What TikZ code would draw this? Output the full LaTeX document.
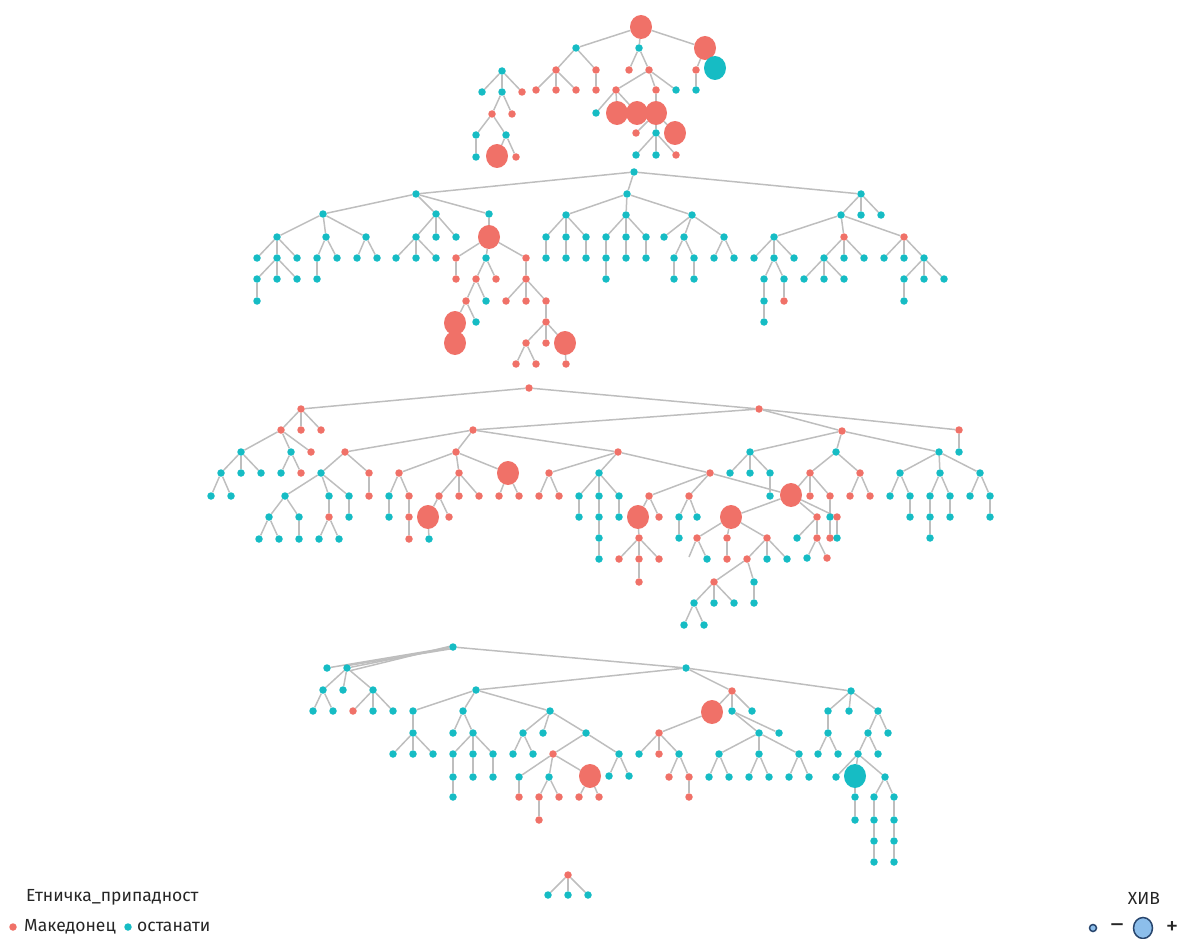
\documentclass[tikz,border=0pt]{standalone}
\usepackage{fontspec}
\setmainfont{Fira Sans}
\usetikzlibrary{shapes.geometric}
\definecolor{salmon}{RGB}{240,113,104}
\definecolor{tealc}{RGB}{22,188,196}
\definecolor{edgec}{RGB}{190,190,190}
\definecolor{hivfill}{RGB}{140,190,235}
\definecolor{hivline}{RGB}{40,70,110}
\pgfdeclarelayer{bg}
\pgfsetlayers{bg,main}
\tikzset{
  rd/.style={circle, fill=salmon, inner sep=0pt, minimum size=7.5pt},
  td/.style={circle, fill=tealc, inner sep=0pt, minimum size=7.5pt},
  bigr/.style={ellipse, fill=salmon, inner sep=0pt, minimum width=22pt, minimum height=24pt},
  bigt/.style={ellipse, fill=tealc, inner sep=0pt, minimum width=22pt, minimum height=24pt},
  edge/.style={draw=edgec, line width=1.5pt},
  legtext/.style={inner sep=0pt, font=\fontsize{17.5}{21}\selectfont, text=black!85},
  signtext/.style={inner sep=0pt, font=\fontsize{25}{27}\selectfont, text=black!85}
}
\newcommand\mkR[2]{\node[rd] (#1) at (#2) {};}
\newcommand\mkT[2]{\node[td] (#1) at (#2) {};}
\newcommand\mkBR[2]{\node[bigr] (#1) at (#2) {};}
\newcommand\mkBT[2]{\node[bigt] (#1) at (#2) {};}
\newcommand\mkE[2]{\foreach \kid in {#2}{\draw[edge] (#1) -- (\kid);}}
\begin{document}
\begin{tikzpicture}[x=1pt,y=-1pt]
\useasboundingbox (0,0) rectangle (1184,939);
% ---------------- Tree A
\mkBR{A0}{641,27}
\mkT{A1}{576,48} \mkT{A2}{639,48} \mkBR{A3}{705,48}
\mkR{A4}{556,70} \mkR{A5}{596,70}
\mkR{A6}{536,90} \mkR{A7}{556,90} \mkR{A8}{576,90}
\mkR{A9}{596,90}
\mkR{A10}{629,70} \mkR{A11}{649,70}
\mkR{A12}{616,90} \mkR{A13}{656,90} \mkT{A14}{676,90}
\mkT{A15}{596,113} \mkBR{A16}{617,113} \mkBR{A17}{637,113}
\mkBR{A18}{656,113}
\mkR{A19}{636,133} \mkT{A20}{656,133} \mkBR{A21}{675,133}
\mkT{A22}{636,155} \mkT{A23}{656,155} \mkR{A24}{676,155}
\mkR{A25}{696,70} \mkBT{A26}{715,68}
\mkT{A27}{696,90}
% ---------------- Tree B
\mkT{B0}{502,71}
\mkT{B1}{482,92} \mkT{B2}{502,92} \mkR{B3}{522,92}
\mkR{B4}{492,114} \mkR{B5}{512,114}
\mkT{B6}{476,135} \mkT{B7}{506,135}
\mkT{B8}{476,157}
\mkBR{B9}{497,156} \mkR{B10}{516,157}
% ---------------- Tree C
\mkT{C0}{634,172}
\mkT{C1}{416,194} \mkT{C2}{627,194} \mkT{C3}{861,194}
\mkT{C4}{323,214} \mkT{C5}{436,214} \mkT{C6}{489,214}
\mkT{C7}{277,237} \mkT{C8}{326,237} \mkT{C9}{366,237}
\mkT{C10}{257,258} \mkT{C11}{277,258} \mkT{C12}{297,258}
\mkT{C13}{257,279} \mkT{C14}{277,279} \mkT{C15}{297,279}
\mkT{C16}{257,301}
\mkT{C17}{317,258} \mkT{C18}{337,258}
\mkT{C19}{317,279}
\mkT{C20}{357,258} \mkT{C21}{377,258}
\mkT{C22}{416,237} \mkT{C23}{436,237} \mkT{C24}{456,237}
\mkT{C25}{396,258} \mkT{C26}{416,258} \mkT{C27}{436,258}
\mkBR{C28}{489,237}
\mkR{C29}{456,258} \mkT{C30}{486,258} \mkR{C31}{526,258}
\mkR{C32}{456,279}
\mkR{C33}{476,279} \mkR{C34}{496,279}
\mkR{C35}{466,301} \mkT{C36}{486,301}
\mkBR{C37}{455,323} \mkT{C38}{476,322}
\mkBR{C39}{455,343}
\mkR{C40}{526,279}
\mkR{C41}{506,301} \mkR{C42}{526,301} \mkR{C43}{546,301}
\mkR{C44}{546,322}
\mkR{C45}{526,343} \mkR{C46}{546,343} \mkBR{C47}{565,343}
\mkR{C48}{516,364} \mkR{C49}{536,364}
\mkR{C50}{566,364}
\mkT{C51}{566,215} \mkT{C52}{626,215} \mkT{C53}{692,215}
\mkT{C54}{546,237} \mkT{C55}{566,237} \mkT{C56}{586,237}
\mkT{C57}{546,258} \mkT{C58}{566,258} \mkT{C59}{586,258}
\mkT{C60}{606,237} \mkT{C61}{626,237} \mkT{C62}{646,237}
\mkT{C63}{606,258} \mkT{C64}{626,258} \mkT{C65}{646,258}
\mkT{C66}{606,279}
\mkT{C67}{664,237} \mkT{C68}{684,237} \mkT{C69}{724,237}
\mkT{C70}{674,258} \mkT{C71}{694,258}
\mkT{C72}{674,279} \mkT{C73}{694,279}
\mkT{C74}{714,258} \mkT{C75}{734,258}
\mkT{C76}{841,215} \mkT{C77}{861,215} \mkT{C78}{881,215}
\mkT{C79}{774,237} \mkR{C80}{844,237} \mkR{C81}{904,237}
\mkT{C82}{754,258} \mkT{C83}{774,258} \mkT{C84}{794,258}
\mkT{C85}{764,279} \mkT{C86}{784,279}
\mkT{C87}{764,301} \mkT{C88}{764,322}
\mkR{C89}{784,301}
\mkT{C90}{824,258} \mkT{C91}{844,258} \mkT{C92}{864,258}
\mkT{C93}{804,279} \mkT{C94}{824,279} \mkT{C95}{844,279}
\mkT{C96}{884,258} \mkT{C97}{904,258} \mkT{C98}{924,258}
\mkT{C99}{904,279} \mkT{C100}{924,279} \mkT{C101}{944,279}
\mkT{C102}{904,301}
% ---------------- Tree D
\mkR{D0}{529,388}
\mkR{D1}{301,409} \mkR{D2}{759,409}
\mkR{D3}{281,430} \mkR{D4}{301,430} \mkR{D5}{321,430}
\mkT{D6}{241,452} \mkT{D7}{291,452} \mkR{D8}{311,452}
\mkT{D9}{221,473} \mkT{D10}{241,473} \mkT{D11}{261,473}
\mkT{D12}{211,496} \mkT{D13}{231,496}
\mkT{D14}{281,473} \mkR{D15}{301,473}
\mkR{D16}{473,430} \mkR{D17}{842,431} \mkR{D18}{959,430}
\mkR{D19}{345,452} \mkR{D20}{456,452} \mkR{D21}{618,452}
\mkT{D22}{321,473} \mkR{D23}{369,473}
\mkT{D24}{285,496} \mkT{D25}{329,496} \mkT{D26}{349,496}
\mkT{D27}{269,517} \mkT{D28}{299,517}
\mkT{D29}{259,539} \mkT{D30}{279,539}
\mkT{D31}{299,539}
\mkR{D32}{329,517} \mkT{D33}{319,539} \mkT{D34}{339,539}
\mkT{D35}{349,517}
\mkR{D36}{369,496}
\mkR{D37}{399,473} \mkR{D38}{459,473} \mkBR{D39}{508,473}
\mkT{D40}{389,496} \mkR{D41}{409,496}
\mkT{D42}{389,517}
\mkR{D43}{409,517} \mkR{D44}{409,539}
\mkR{D45}{439,496} \mkR{D46}{459,496} \mkR{D47}{479,496}
\mkBR{D48}{428,517} \mkR{D49}{449,517}
\mkT{D50}{429,539}
\mkR{D51}{499,496} \mkR{D52}{519,496}
\mkR{D53}{549,473} \mkT{D54}{599,473} \mkR{D55}{710,473}
\mkR{D56}{539,496} \mkR{D57}{559,496}
\mkT{D58}{579,496} \mkT{D59}{599,496} \mkT{D60}{619,496}
\mkT{D61}{579,517}
\mkT{D62}{599,517} \mkT{D63}{599,538} \mkT{D64}{599,559}
\mkT{D65}{619,517}
\mkR{D66}{649,496} \mkR{D67}{689,496} \mkBR{D68}{791,495}
\mkBR{D69}{638,517} \mkR{D70}{659,517}
\mkR{D71}{639,538}
\mkR{D72}{619,559} \mkR{D73}{639,559} \mkR{D74}{659,559}
\mkR{D75}{639,582}
\mkT{D76}{679,517} \mkT{D77}{697,517}
\mkT{D78}{679,538}
\mkBR{D79}{731,517}
\mkR{D80}{697,538} \mkR{D81}{727,538} \mkR{D82}{767,538}
\coordinate (D83) at (689,557);
\mkT{D84}{707,559}
\mkR{D85}{727,559}
\mkR{D86}{747,559} \mkT{D87}{767,559} \mkT{D88}{787,559}
\mkR{D89}{714,582} \mkT{D90}{754,582}
\mkT{D91}{694,603} \mkT{D92}{714,603} \mkT{D93}{734,603}
\mkT{D94}{754,603}
\mkT{D95}{684,625} \mkT{D96}{704,625}
\mkT{D97}{750,452} \mkT{D98}{836,452} \mkT{D99}{939,452}
\mkT{D100}{730,473} \mkT{D101}{750,473} \mkT{D102}{770,473}
\mkT{D103}{770,496}
\mkR{D104}{810,473} \mkR{D105}{860,473}
\mkR{D106}{810,496} \mkR{D107}{830,496}
\mkT{D108}{830,517} \mkR{D109}{830,538}
\mkR{D110}{817,517} \mkR{D111}{837,517}
\mkT{D112}{797,538} \mkR{D113}{817,538}
\mkT{D114}{807,558} \mkR{D115}{827,558}
\mkT{D116}{837,538}
\mkR{D117}{850,496} \mkR{D118}{870,496}
\mkT{D119}{900,473} \mkT{D120}{940,473} \mkT{D121}{980,473}
\mkT{D122}{890,496} \mkT{D123}{910,496} \mkT{D124}{910,517}
\mkT{D125}{930,496} \mkT{D126}{950,496}
\mkT{D127}{930,517} \mkT{D128}{930,538} \mkT{D129}{950,517}
\mkT{D130}{970,496} \mkT{D131}{990,496} \mkT{D132}{990,517}
\mkT{D133}{959,452}
% ---------------- Tree E
\mkT{E0}{453,647}
\mkT{E1}{327,668} \mkT{E2}{347,668} \mkT{E3}{686,668}
\mkT{E4}{323,690} \mkT{E5}{343,690} \mkT{E6}{373,690}
\mkT{E7}{313,711} \mkT{E8}{333,711}
\mkR{E9}{353,711} \mkT{E10}{373,711} \mkT{E11}{393,711}
\mkT{E12}{476,690} \mkR{E13}{732,691} \mkT{E14}{851,691}
\mkT{E15}{413,711} \mkT{E16}{463,711} \mkT{E17}{550,711}
\mkT{E18}{413,733}
\mkT{E19}{393,754} \mkT{E20}{413,754} \mkT{E21}{433,754}
\mkT{E22}{453,733} \mkT{E23}{473,733}
\mkT{E24}{453,754} \mkT{E25}{473,754} \mkT{E26}{493,754}
\mkT{E27}{453,777} \mkT{E28}{453,797}
\mkT{E29}{473,777} \mkT{E30}{493,777}
\mkT{E31}{523,733} \mkT{E32}{543,733} \mkT{E33}{586,733}
\mkT{E34}{513,754} \mkT{E35}{533,754}
\mkR{E36}{553,754} \mkT{E37}{619,754}
\mkT{E38}{519,777} \mkT{E39}{549,777} \mkBR{E40}{590,776}
\mkR{E41}{519,797}
\mkR{E42}{539,797} \mkR{E43}{559,797}
\mkR{E44}{539,820}
\mkR{E45}{579,797} \mkR{E46}{599,797}
\mkT{E47}{609,776} \mkT{E48}{629,776}
\mkBR{E49}{712,712} \mkT{E50}{732,711} \mkT{E51}{752,711}
\mkR{E52}{659,733}
\mkT{E53}{639,754} \mkR{E54}{659,754} \mkT{E55}{679,754}
\mkR{E56}{669,777} \mkR{E57}{689,777} \mkR{E58}{689,797}
\mkT{E59}{759,733} \mkT{E60}{779,733}
\mkT{E61}{719,754} \mkT{E62}{759,754} \mkT{E63}{799,754}
\mkT{E64}{709,777} \mkT{E65}{729,777}
\mkT{E66}{749,777} \mkT{E67}{769,777}
\mkT{E68}{789,777} \mkT{E69}{809,777}
\mkT{E70}{828,711} \mkT{E71}{849,711} \mkT{E72}{878,711}
\mkT{E73}{828,733}
\mkT{E74}{818,754} \mkT{E75}{838,754}
\mkT{E76}{868,733} \mkT{E77}{888,733}
\mkT{E78}{858,754} \mkT{E79}{878,754}
\mkT{E80}{836,777} \mkBT{E81}{855,776} \mkT{E82}{885,777}
\mkT{E83}{855,797} \mkT{E84}{855,820}
\mkT{E85}{874,797} \mkT{E86}{894,797}
\mkT{E87}{874,820} \mkT{E88}{874,841} \mkT{E89}{874,862}
\mkT{E90}{894,820} \mkT{E91}{894,841} \mkT{E92}{894,862}
% ---------------- Tree F
\mkR{F0}{568,875}
\mkT{F1}{548,895} \mkT{F2}{568,895} \mkT{F3}{588,895}
% ---------------- edges
\begin{pgfonlayer}{bg}
\mkE{A0}{A1,A2,A3} \mkE{A1}{A4,A5} \mkE{A4}{A6,A7,A8} \mkE{A5}{A9}
\mkE{A2}{A10,A11} \mkE{A11}{A12,A13,A14} \mkE{A12}{A15,A16,A17}
\mkE{A13}{A18} \mkE{A18}{A19,A20,A21} \mkE{A20}{A22,A23,A24}
\mkE{A3}{A25,A26} \mkE{A25}{A27}
\mkE{B0}{B1,B2,B3} \mkE{B2}{B4,B5} \mkE{B4}{B6,B7} \mkE{B6}{B8} \mkE{B7}{B9,B10}
\mkE{C0}{C1,C2,C3} \mkE{C1}{C4,C5,C6} \mkE{C4}{C7,C8,C9}
\mkE{C7}{C10,C11,C12} \mkE{C11}{C13,C14,C15} \mkE{C13}{C16}
\mkE{C8}{C17,C18} \mkE{C17}{C19} \mkE{C9}{C20,C21}
\mkE{C5}{C22,C23,C24} \mkE{C22}{C25,C26,C27}
\mkE{C6}{C28} \mkE{C28}{C29,C30,C31} \mkE{C29}{C32} \mkE{C30}{C33,C34}
\mkE{C33}{C35,C36} \mkE{C35}{C37,C38} \mkE{C37}{C39}
\mkE{C31}{C40} \mkE{C40}{C41,C42,C43} \mkE{C43}{C44}
\mkE{C44}{C45,C46,C47} \mkE{C45}{C48,C49} \mkE{C47}{C50}
\mkE{C2}{C51,C52,C53} \mkE{C51}{C54,C55,C56}
\mkE{C54}{C57} \mkE{C55}{C58} \mkE{C56}{C59}
\mkE{C52}{C60,C61,C62} \mkE{C60}{C63} \mkE{C61}{C64} \mkE{C62}{C65} \mkE{C63}{C66}
\mkE{C53}{C67,C68,C69} \mkE{C68}{C70,C71} \mkE{C70}{C72} \mkE{C71}{C73}
\mkE{C69}{C74,C75}
\mkE{C3}{C76,C77,C78} \mkE{C76}{C79,C80,C81}
\mkE{C79}{C82,C83,C84} \mkE{C83}{C85,C86} \mkE{C85}{C87} \mkE{C87}{C88} \mkE{C86}{C89}
\mkE{C80}{C90,C91,C92} \mkE{C90}{C93,C94,C95}
\mkE{C81}{C96,C97,C98} \mkE{C98}{C99,C100,C101} \mkE{C99}{C102}
\mkE{D0}{D1,D2} \mkE{D1}{D3,D4,D5} \mkE{D3}{D6,D7,D8}
\mkE{D6}{D9,D10,D11} \mkE{D9}{D12,D13} \mkE{D7}{D14,D15}
\mkE{D2}{D16,D17,D18} \mkE{D16}{D19,D20,D21}
\mkE{D19}{D22,D23} \mkE{D22}{D24,D25,D26} \mkE{D24}{D27,D28}
\mkE{D27}{D29,D30} \mkE{D28}{D31} \mkE{D25}{D32} \mkE{D32}{D33,D34}
\mkE{D26}{D35} \mkE{D23}{D36}
\mkE{D20}{D37,D38,D39} \mkE{D37}{D40,D41} \mkE{D40}{D42} \mkE{D41}{D43} \mkE{D43}{D44}
\mkE{D38}{D45,D46,D47} \mkE{D45}{D48,D49} \mkE{D48}{D50}
\mkE{D39}{D51,D52}
\mkE{D21}{D53,D54,D55} \mkE{D53}{D56,D57} \mkE{D54}{D58,D59,D60}
\mkE{D58}{D61} \mkE{D59}{D62} \mkE{D62}{D63} \mkE{D63}{D64} \mkE{D60}{D65}
\mkE{D55}{D66,D67,D68} \mkE{D66}{D69,D70} \mkE{D69}{D71} \mkE{D71}{D72,D73,D74}
\mkE{D73}{D75} \mkE{D67}{D76,D77} \mkE{D76}{D78}
\mkE{D68}{D79,D110,D111} \mkE{D79}{D80,D81,D82}
\mkE{D80}{D83,D84} \mkE{D81}{D85} \mkE{D82}{D86,D87,D88}
\mkE{D86}{D89,D90} \mkE{D89}{D91,D92,D93} \mkE{D90}{D94} \mkE{D91}{D95,D96}
\mkE{D17}{D97,D98,D99} \mkE{D97}{D100,D101,D102} \mkE{D102}{D103}
\mkE{D98}{D104,D105} \mkE{D104}{D106,D107,D68} \mkE{D107}{D108} \mkE{D108}{D109}
\mkE{D110}{D112,D113} \mkE{D113}{D114,D115} \mkE{D111}{D116}
\mkE{D105}{D117,D118}
\mkE{D99}{D119,D120,D121} \mkE{D119}{D122,D123} \mkE{D123}{D124}
\mkE{D120}{D125,D126} \mkE{D125}{D127} \mkE{D127}{D128} \mkE{D126}{D129}
\mkE{D121}{D130,D131} \mkE{D131}{D132}
\mkE{D18}{D133}
\mkE{E0}{E1,E2,E3}
\draw[edge] ([yshift=-1.5pt]E0.center) -- (E2.north east);
\draw[edge] ([yshift=1.5pt]E0.center) -- (E2.south east);
\mkE{E2}{E4,E5,E6} \mkE{E4}{E7,E8} \mkE{E6}{E9,E10,E11}
\mkE{E3}{E12,E13,E14} \mkE{E12}{E15,E16,E17}
\mkE{E15}{E18} \mkE{E18}{E19,E20,E21}
\mkE{E16}{E22,E23} \mkE{E23}{E24,E25,E26} \mkE{E24}{E27} \mkE{E27}{E28}
\mkE{E25}{E29} \mkE{E26}{E30}
\mkE{E17}{E31,E32,E33} \mkE{E31}{E34,E35}
\mkE{E33}{E36,E37} \mkE{E36}{E38,E39,E40} \mkE{E38}{E41} \mkE{E39}{E42,E43} \mkE{E42}{E44}
\mkE{E40}{E45,E46} \mkE{E37}{E47,E48}
\mkE{E13}{E49,E50,E51} \mkE{E49}{E52} \mkE{E52}{E53,E54,E55} \mkE{E55}{E56,E57} \mkE{E57}{E58}
\mkE{E50}{E59,E60} \mkE{E59}{E61,E62,E63}
\mkE{E61}{E64,E65} \mkE{E62}{E66,E67} \mkE{E63}{E68,E69}
\mkE{E14}{E70,E71,E72} \mkE{E70}{E73} \mkE{E73}{E74,E75}
\mkE{E72}{E76,E77} \mkE{E76}{E78,E79} \mkE{E78}{E80,E81,E82}
\mkE{E81}{E83} \mkE{E83}{E84} \mkE{E82}{E85,E86}
\mkE{E85}{E87} \mkE{E87}{E88} \mkE{E88}{E89}
\mkE{E86}{E90} \mkE{E90}{E91} \mkE{E91}{E92}
\mkE{F0}{F1,F2,F3}
\end{pgfonlayer}
% ---------------- legends
\node[legtext, anchor=west] (ltitle) at (26,897) {Етничка\_припадност};
\node[rd] (lgR) at (13,927) {};
\node[legtext, anchor=west] (lgRt) at (24,927) {Македонец};
\node[td] (lgT) at (128,927) {};
\node[legtext, anchor=west] (lgTt) at (137,927) {останати};
\node[legtext] (hiv) at (1144,898) {ХИВ};
\node[circle, fill=hivfill, draw=hivline, line width=1.5pt, inner sep=0pt, minimum size=7pt] (hsmall) at (1093,928) {};
\node[signtext] (hminus) at (1117,928) {–};
\node[ellipse, fill=hivfill, draw=hivline, line width=1.5pt, inner sep=0pt, minimum width=19pt, minimum height=21pt] (hbig) at (1143,928) {};
\node[signtext] (hplus) at (1172,928) {+};
\end{tikzpicture}
\end{document}
